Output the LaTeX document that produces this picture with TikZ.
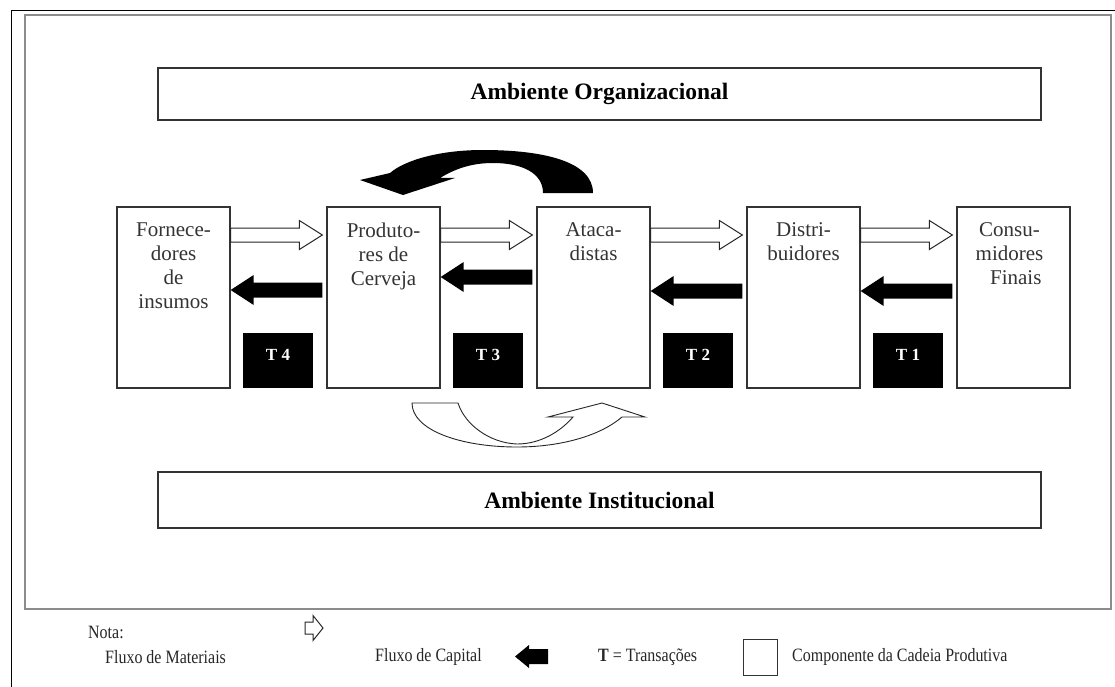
\documentclass[tikz,border=0pt]{standalone}
\usepackage{fontspec}
\setmainfont{Liberation Serif}
\newfontfamily\legfont[FakeStretch=0.85]{Liberation Serif}
\usetikzlibrary{calc}

% material flow: open arrow from #1 (tail) to #2 (tip), pointing right
\newcommand\flowright[2]{%
  \filldraw[openflow] let \p1=(#1), \p2=(#2) in
    (\x1,{\y1+7pt}) -- ({\x2-23pt},{\y1+7pt}) -- ({\x2-23pt},{\y1+14.5pt})
    -- (\x2,\y1) -- ({\x2-23pt},{\y1-14.5pt}) -- ({\x2-23pt},{\y1-7pt})
    -- (\x1,{\y1-7pt}) -- cycle;}
% capital flow: solid arrow from #1 (tail) to #2 (tip), pointing left
\newcommand\flowleft[2]{%
  \fill[capflow] let \p1=(#1), \p2=(#2) in
    (\x1,{\y1+7.5pt}) -- ({\x2+23pt},{\y1+7.5pt}) -- ({\x2+23pt},{\y1+15pt})
    -- (\x2,\y1) -- ({\x2+23pt},{\y1-15pt}) -- ({\x2+23pt},{\y1-7.5pt})
    -- (\x1,{\y1-7.5pt}) -- cycle;}

\begin{document}
\begin{tikzpicture}[x=1pt,y=-1pt,
  comp/.style={draw=black!80, line width=1.3pt, minimum width=113pt,
    minimum height=181pt, inner sep=0pt},
  ctext/.style={anchor=north, align=center, inner sep=0pt,
    font=\fontsize{21}{24}\selectfont, text=black!80},
  envbox/.style={draw=black!80, line width=1.3pt, minimum width=883pt,
    inner sep=0pt, font=\fontsize{23.5}{27}\selectfont\bfseries},
  tbox/.style={fill=black, minimum width=70pt, minimum height=55pt, inner sep=0pt},
  tlabel/.style={text=white, inner sep=0pt, font=\fontsize{17}{20}\selectfont\bfseries},
  openflow/.style={draw=black!85, line width=1pt, fill=white, line join=miter},
  capflow/.style={fill=black},
  legtext/.style={anchor=west, inner sep=0pt, font=\legfont\fontsize{18.8}{22}\selectfont, text=black!85}
]
\useasboundingbox (0,0) rectangle (1115,687);

% frames
\draw[line width=1pt] (11,687) -- (11,11) -- (1115,11);
\draw[black!45, line width=2pt] (25,15) rectangle (1111,609);

% environments
\node[envbox, minimum height=52pt] (org) at (599.5,94) {Ambiente Organizacional};
\node[envbox, minimum height=56pt] (inst) at (599.5,500) {Ambiente Institucional};

% chain components
\node[comp] (b1) at (173.5,297.5) {};
\node[comp] (b2) at (383.5,297.5) {};
\node[comp] (b3) at (593.5,297.5) {};
\node[comp] (b4) at (803.5,297.5) {};
\node[comp] (b5) at (1013.5,297.5) {};

\node[ctext] (l1) at ([yshift=-16pt]b1.north) {Fornece-\\dores\\de\\insumos};
\node[ctext] (l2) at ([yshift=-16pt]b2.north) {Produto-\\res de\\Cerveja};
\node[ctext] (l3) at ([yshift=-16pt]b3.north) {Ataca-\\distas};
\node[ctext] (l4) at ([yshift=-16pt]b4.north) {Distri-\\buidores};
\node[ctext] (l5) at ([xshift=-4pt,yshift=-16pt]b5.north) {Consu-\\midores\\\hspace*{0.6em}Finais};

% transactions
\node[tbox] (t4) at (278,360.5) {};
\node[tbox] (t3) at (488,360.5) {};
\node[tbox] (t2) at (698,360.5) {};
\node[tbox] (t1) at (908,360.5) {};
\node[tlabel] (t4l) at ([yshift=6pt]t4.center) {T 4};
\node[tlabel] (t3l) at ([yshift=6pt]t3.center) {T 3};
\node[tlabel] (t2l) at ([yshift=6pt]t2.center) {T 2};
\node[tlabel] (t1l) at ([yshift=6pt]t1.center) {T 1};

% material flows
\coordinate (m1s) at ([yshift=62.5pt]b1.east);
\coordinate (m1e) at ([xshift=-4pt,yshift=62.5pt]b2.west);
\coordinate (m2s) at ([yshift=62.5pt]b2.east);
\coordinate (m2e) at ([xshift=-4pt,yshift=62.5pt]b3.west);
\coordinate (m3s) at ([yshift=62.5pt]b3.east);
\coordinate (m3e) at ([xshift=-4pt,yshift=62.5pt]b4.west);
\coordinate (m4s) at ([yshift=62.5pt]b4.east);
\coordinate (m4e) at ([xshift=-4pt,yshift=62.5pt]b5.west);
\flowright{m1s}{m1e}
\flowright{m2s}{m2e}
\flowright{m3s}{m3e}
\flowright{m4s}{m4e}

% capital flows
\coordinate (k1s) at ([xshift=-4pt,yshift=7.5pt]b2.west);
\coordinate (k1e) at ([yshift=7.5pt]b1.east);
\coordinate (k2s) at ([xshift=-4pt,yshift=20.5pt]b3.west);
\coordinate (k2e) at ([yshift=20.5pt]b2.east);
\coordinate (k3s) at ([xshift=-4pt,yshift=6.5pt]b4.west);
\coordinate (k3e) at ([yshift=6.5pt]b3.east);
\coordinate (k4s) at ([xshift=-4pt,yshift=6.5pt]b5.west);
\coordinate (k4e) at ([yshift=6.5pt]b4.east);
\flowleft{k1s}{k1e}
\flowleft{k2s}{k2e}
\flowleft{k3s}{k3e}
\flowleft{k4s}{k4e}

% curved return arrow above the chain
\fill[black] (593,193) .. controls (593,162) and (545,150) .. (483,150)
  .. controls (440,150) and (405,160) .. (390,173)
  -- (360,180) -- (403,195) -- (455,178) -- (440,178)
  .. controls (458,167) and (475,163) .. (493,163)
  .. controls (522,163) and (543,173) .. (543,193) -- cycle;

% curved open arrow below the chain
\filldraw[draw=black!85, line width=0.9pt, fill=white, line join=miter]
  (412,403) -- (458,403) .. controls (465,425) and (490,443) .. (517,444)
  .. controls (540,444) and (560,432) .. (573,417) -- (548,417) -- (602,403)
  -- (645,417) -- (622,417) .. controls (600,436) and (560,447) .. (517,447)
  .. controls (460,447) and (412,430) .. (412,403) -- cycle;

% legend
\node[legtext] (nota) at (88,632) {Nota:};
\node[legtext] (lmat) at (105,657) {Fluxo de Materiais};
\filldraw[openflow] (305,622) -- (313,622) -- (313,615.5) -- (323,628) -- (313,640.5)
  -- (313,634) -- (305,634) -- cycle;
\node[legtext] (lcap) at (375,657) {Fluxo de Capital};
\fill[capflow] (548,649) -- (529,649) -- (529,645) -- (515,656.5) -- (529,668)
  -- (529,664) -- (548,664) -- cycle;
\node[legtext] (ltr) at (598,657) {\textbf{T} = Transações};
\node[draw=black!80, line width=1pt, minimum width=34pt, minimum height=36pt,
  inner sep=0pt] (lsq) at (760,657.5) {};
\node[legtext] (lcomp) at (792,657) {Componente da Cadeia Produtiva};
\end{tikzpicture}
\end{document}
